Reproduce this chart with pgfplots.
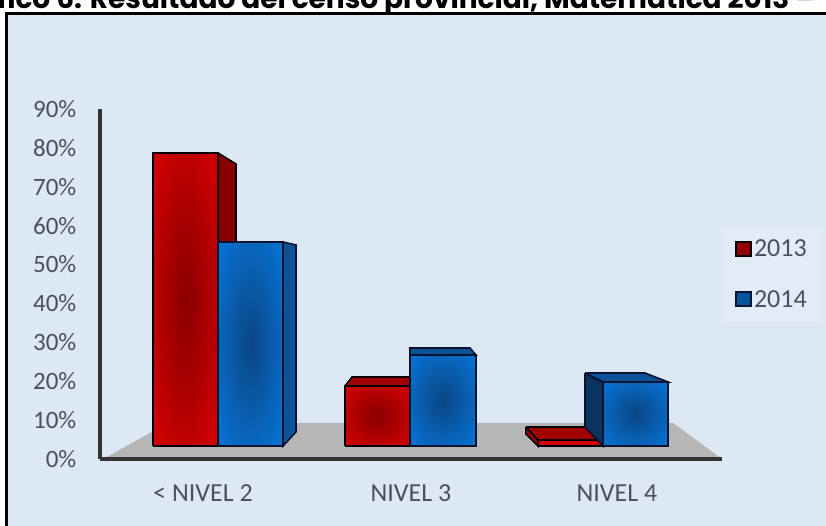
\documentclass[border=0pt]{standalone}
\usepackage{fontspec}
\setmainfont{Carlito}
\newfontfamily\titlefont{Poppins}
\usepackage{pgfplots}
\pgfplotsset{compat=1.18}
\definecolor{panel}{HTML}{DDE8F5}
\definecolor{legbg}{HTML}{E3EBF6}
\definecolor{txt}{HTML}{475160}
\definecolor{floorc}{HTML}{B6B6B6}
\definecolor{redd}{HTML}{880000}
\definecolor{redb}{HTML}{D00000}
\definecolor{redside}{HTML}{880000}
\definecolor{redtop}{HTML}{A00000}
\definecolor{blued}{HTML}{0A4684}
\definecolor{blueb}{HTML}{0870D0}
\definecolor{blueside}{HTML}{0B5296}
\definecolor{bluedark}{HTML}{0A335F}
\definecolor{navy}{HTML}{04142E}
\pgfdeclareradialshading{redbar}{\pgfpoint{0bp}{0bp}}{color(0bp)=(redd); color(32bp)=(redb); color(100bp)=(redb)}
\pgfdeclareradialshading{bluebar}{\pgfpoint{0bp}{0bp}}{color(0bp)=(blued); color(32bp)=(blueb); color(100bp)=(blueb)}
\begin{document}
\begin{tikzpicture}[x=1pt,y=1pt]
\useasboundingbox (0,0) rectangle (826,526);
\clip (0,0) rectangle (826,526);
\fill[white] (0,0) rectangle (826,526);
\node[anchor=base east,font=\titlefont\bfseries\fontsize{28}{28}\selectfont,text=black,inner sep=0pt] at (815,517) {Gráfico 6. Resultado del censo provincial, Matemática 2013 –};
\filldraw[fill=panel,draw=black,line width=3.5pt] (6.5,-10) rectangle (840,512.5);
\begin{axis}[
  at={(100pt,67pt)},anchor=south west,
  scale only axis,width=622pt,height=350pt,
  xmin=100,xmax=722,ymin=0,ymax=90,
  axis on top,
  axis lines=left,
  axis line style={-,draw=black!80,line width=3.2pt},
  tick style={draw=none},
  xtick={203,411,617},
  xticklabels={< NIVEL 2,NIVEL 3,NIVEL 4},
  ytick={0,10,...,90},
  yticklabels={0\%,10\%,20\%,30\%,40\%,50\%,60\%,70\%,80\%,90\%},
  ticklabel style={text=txt,font=\fontsize{25}{25}\selectfont},
  xticklabel style={yshift=-20pt,font=\fontsize{26}{26}\selectfont},
  yticklabel style={xshift=-18pt},
  legend style={at={(1.0,0.528)},anchor=west,draw=none,fill=legbg,font=\fontsize{26}{26}\selectfont,text=txt,
     row sep=28pt,inner xsep=13pt,inner ysep=10pt},
  legend cell align=left,
  legend image code/.code={\filldraw[#1,line width=1.8pt] (0pt,-7pt) rectangle (15pt,7pt);},
]
\addlegendimage{fill=redd!90!red,draw=black}
\addlegendentry{2013}
\addlegendimage{fill=blueb!75!black,draw=navy}
\addlegendentry{2014}
% floor
\addplot[fill=floorc,draw=none] coordinates {(103,0)(168,9.26)(673,9.26)(722,0)(103,0)};
% group 1 red
\addplot[fill=redside,draw=black,line width=1.6pt] coordinates {(218,78.69)(236,75.86)(236,3.34)(218,3.34)(218,78.69)};
\addplot[shade,shading=redbar,draw=black,line width=2pt] coordinates {(153,3.34)(218,3.34)(218,78.69)(153,78.69)(153,3.34)};
% group 1 blue
\addplot[fill=blueside,draw=navy,line width=1.6pt] coordinates {(283,55.8)(296,55.03)(296,6.94)(283,3.34)(283,55.8)};
\addplot[shade,shading=bluebar,draw=navy,line width=2pt] coordinates {(218,3.34)(283,3.34)(283,55.8)(218,55.8)(218,3.34)};
% group 2 red
\addplot[fill=redtop,draw=black,line width=1.6pt] coordinates {(345,18.77)(352,21.09)(410,21.09)(410,18.77)(345,18.77)};
\addplot[shade,shading=redbar,draw=black,line width=2pt] coordinates {(345,3.34)(410,3.34)(410,18.77)(345,18.77)(345,3.34)};
% group 2 blue
\addplot[fill=blueside,draw=navy,line width=1.6pt] coordinates {(410,26.74)(410,28.54)(470,28.54)(476,26.74)(410,26.74)};
\addplot[shade,shading=bluebar,draw=navy,line width=2pt] coordinates {(410,3.34)(476,3.34)(476,26.74)(410,26.74)(410,3.34)};
% group 3 red
\addplot[fill=redtop,draw=black,line width=1.6pt] coordinates {(526,8.23)(526,6.43)(538,3.34)(538,4.89)(526,8.23)};
\addplot[fill=redtop,draw=black,line width=1.6pt] coordinates {(526,8.23)(585,8.23)(603,4.89)(538,4.89)(526,8.23)};
\addplot[fill=redb,draw=black,line width=1.6pt] coordinates {(538,3.34)(603,3.34)(603,4.89)(538,4.89)(538,3.34)};
% group 3 blue
\addplot[fill=bluedark,draw=navy,line width=1.6pt] coordinates {(585,22.11)(603,19.8)(603,3.34)(585,8.23)(585,22.11)};
\addplot[fill=blueside,draw=navy,line width=1.6pt] coordinates {(585,22.11)(645,22.11)(668,19.8)(603,19.8)(585,22.11)};
\addplot[shade,shading=bluebar,draw=navy,line width=2pt] coordinates {(603,3.34)(668,3.34)(668,19.8)(603,19.8)(603,3.34)};
\end{axis}
\end{tikzpicture}
\end{document}
